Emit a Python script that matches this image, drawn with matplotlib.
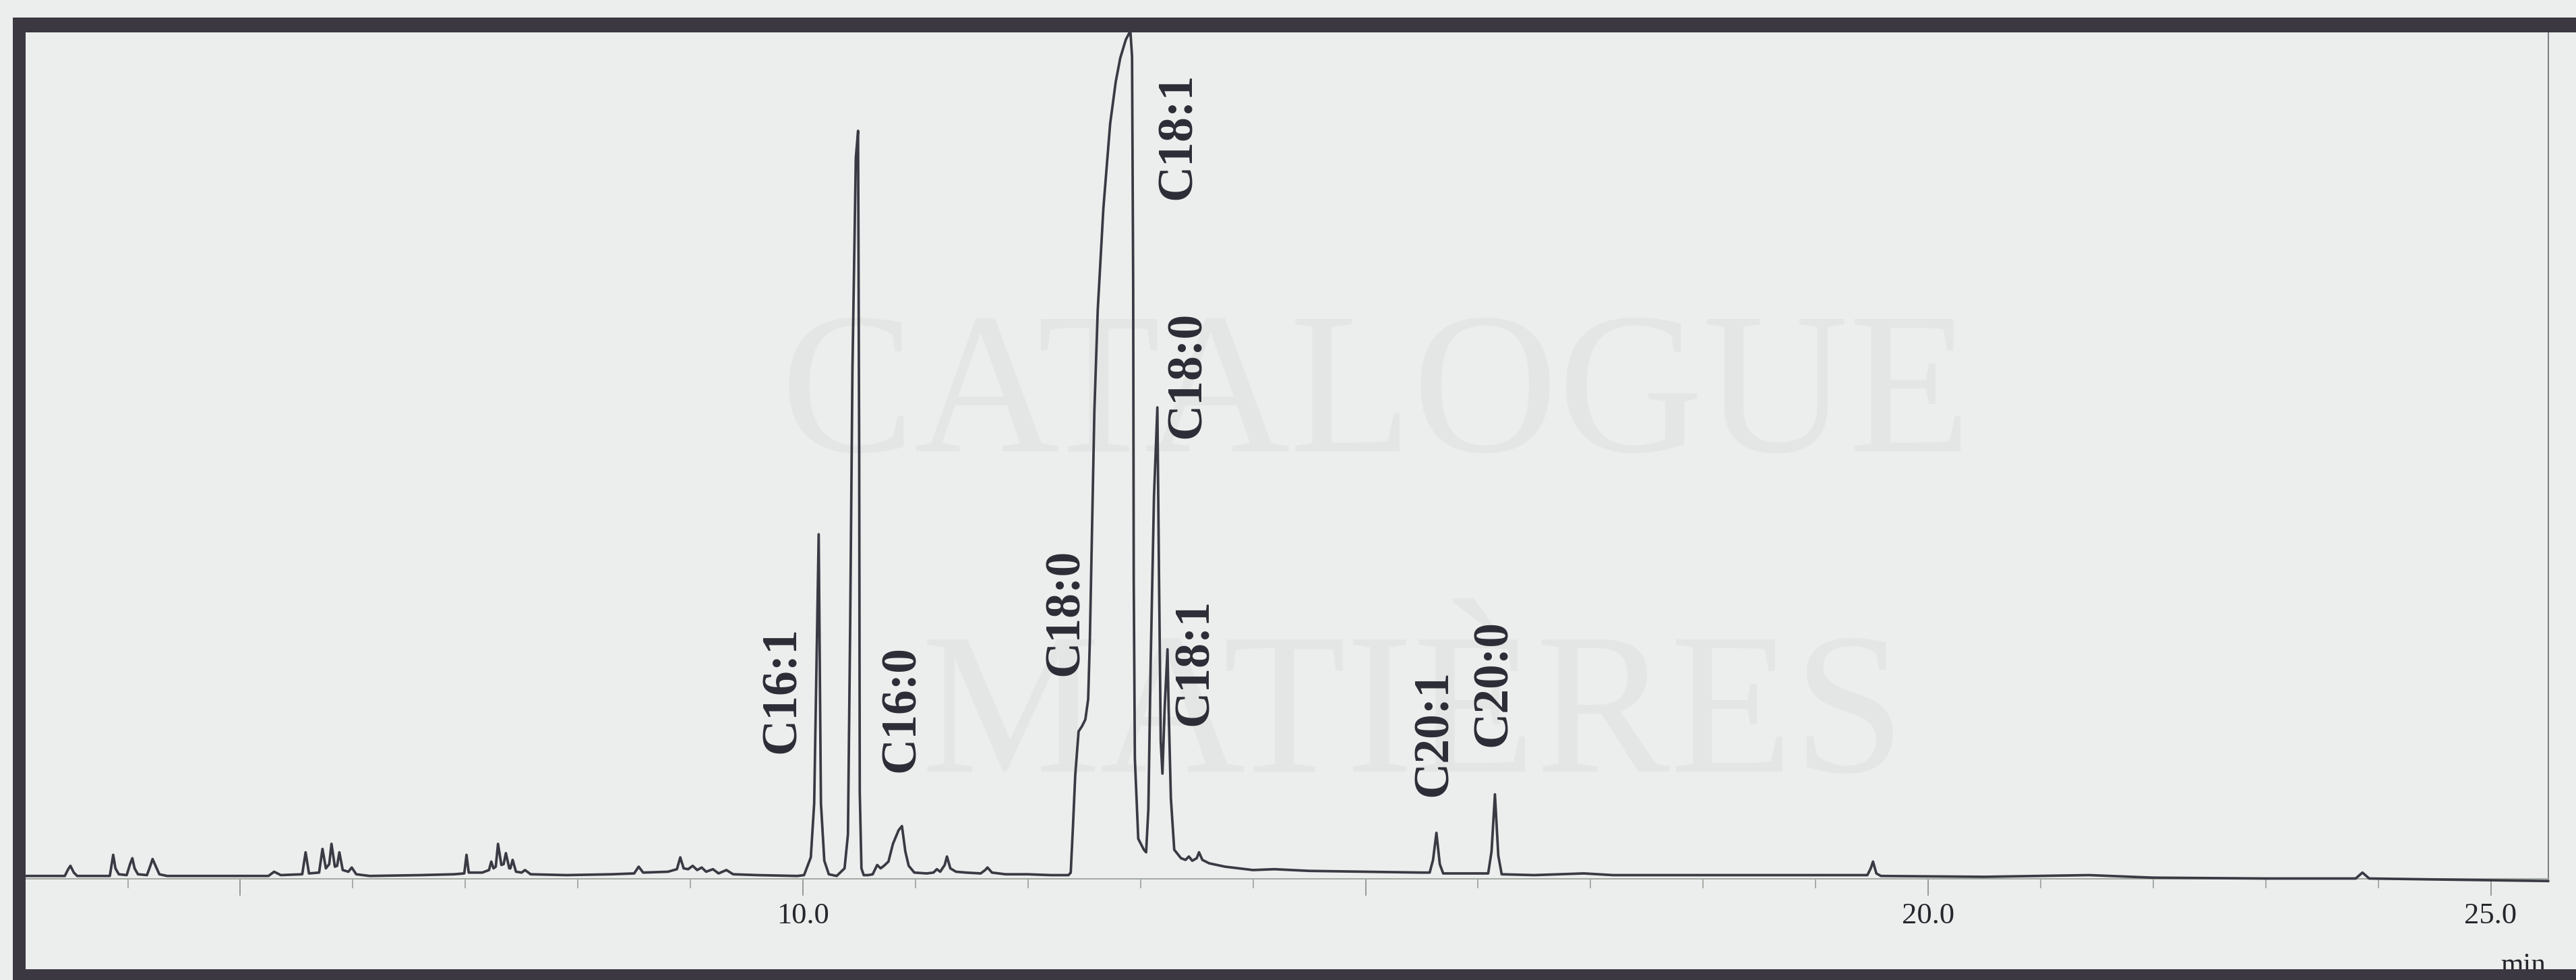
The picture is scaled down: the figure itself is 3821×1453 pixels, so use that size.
import matplotlib
matplotlib.use("Agg")
import matplotlib.pyplot as plt
from matplotlib.patches import Rectangle
import numpy as np

# ---------------- data ----------------
# retention time (min) / detector signal (% of full scale), trace vertices by region
rt_early = [3.08, 3.44, 3.47, 3.49, 3.52, 3.55, 3.84, 3.86, 3.87, 3.89, 3.92,
            3.99, 4.02, 4.04, 4.06, 4.09, 4.17, 4.20, 4.22, 4.25, 4.28, 4.35,
            5.00, 5.25, 5.30, 5.36, 5.55, 5.58, 5.61, 5.70, 5.73, 5.76, 5.79,
            5.81, 5.84, 5.86, 5.88, 5.91, 5.96, 5.99, 6.03, 6.15, 6.60, 6.90,
            6.99, 7.01, 7.03, 7.15, 7.21, 7.23, 7.25, 7.27, 7.29, 7.32, 7.34,
            7.36, 7.39, 7.40, 7.42, 7.45, 7.50, 7.53, 7.58, 7.90, 8.30, 8.50,
            8.54, 8.58, 8.80, 8.88, 8.91, 8.94, 8.98, 9.02, 9.06, 9.10, 9.14,
            9.20, 9.25, 9.32, 9.38, 9.60, 9.95]
sig_early = [0.1, 0.1, 0.9, 1.3, 0.5, 0.1, 0.1, 1.8, 2.6, 1.0, 0.3,
             0.2, 1.5, 2.2, 1.0, 0.3, 0.2, 1.3, 2.1, 1.2, 0.3, 0.1,
             0.1, 0.1, 0.6, 0.2, 0.3, 2.9, 0.4, 0.5, 3.3, 1.0, 1.5,
             3.9, 1.2, 1.3, 2.9, 0.8, 0.6, 1.1, 0.3, 0.1, 0.2, 0.3,
             0.4, 2.6, 0.5, 0.5, 0.8, 1.8, 1.0, 1.2, 3.9, 1.4, 1.5,
             2.8, 1.0, 1.0, 2.0, 0.6, 0.5, 0.8, 0.3, 0.2, 0.3, 0.4,
             1.2, 0.5, 0.6, 0.9, 2.3, 1.0, 0.9, 1.3, 0.8, 1.1, 0.6,
             0.9, 0.4, 0.8, 0.3, 0.2, 0.1]

rt_c16 = [10.01, 10.07, 10.10, 10.14, 10.16, 10.19, 10.23, 10.30, 10.37,
          10.40, 10.42, 10.44, 10.47, 10.49, 10.50, 10.505, 10.52, 10.54,
          10.58, 10.62, 10.66, 10.69, 10.72, 10.76, 10.80, 10.85, 10.88,
          10.91, 10.94, 10.99, 11.10, 11.16, 11.19, 11.22, 11.26, 11.28,
          11.31, 11.36, 11.45, 11.58, 11.62, 11.64, 11.68, 11.80, 12.00,
          12.20, 12.36]
sig_c16 = [0.2, 2.3, 8.7, 40.5, 8.7, 1.9, 0.3, 0.1, 1.0,
           5.0, 30.0, 60.0, 85.0, 88.2, 50.0, 10.0, 1.0, 0.2,
           0.2, 0.3, 1.4, 1.0, 1.3, 1.8, 3.9, 5.5, 6.0,
           3.0, 1.3, 0.5, 0.4, 0.5, 0.9, 0.6, 1.4, 2.4,
           1.0, 0.6, 0.5, 0.4, 0.8, 1.1, 0.5, 0.3, 0.3,
           0.2, 0.2]

rt_c18 = [12.38, 12.40, 12.42, 12.45, 12.48, 12.51, 12.535, 12.55, 12.565,
          12.59, 12.62, 12.67, 12.73, 12.78, 12.82, 12.87, 12.91, 12.925,
          12.935, 12.94, 12.95, 12.98, 13.03, 13.05, 13.07, 13.09, 13.12,
          13.15, 13.165, 13.18, 13.195, 13.215, 13.24, 13.25, 13.27, 13.30,
          13.36, 13.40, 13.43, 13.46, 13.50, 13.52, 13.55, 13.61, 13.75,
          14.00, 14.19, 14.50, 15.00, 15.50]
sig_c18 = [0.5, 6.0, 12.0, 17.2, 17.8, 18.6, 21.0, 28.0, 38.0,
           55.0, 67.0, 79.0, 89.0, 94.0, 96.8, 99.0, 100.0, 97.0,
           70.0, 35.0, 14.0, 4.5, 3.2, 2.9, 8.0, 25.0, 45.0,
           55.5, 35.0, 16.0, 12.2, 20.0, 26.9, 20.0, 9.3, 3.2,
           2.2, 2.0, 2.4, 1.9, 2.2, 2.9, 2.0, 1.6, 1.2,
           0.8, 0.9, 0.7, 0.6, 0.5]

rt_late = [15.57, 15.60, 15.63, 15.66, 15.69, 16.09, 16.12, 16.15, 16.18,
           16.21, 16.50, 16.94, 17.20, 18.00, 19.00, 19.46, 19.49, 19.51,
           19.54, 19.58, 20.50, 21.43, 22.00, 23.00, 23.80, 23.86, 23.92,
           25.00, 25.51]
sig_late = [0.5, 2.0, 5.2, 1.5, 0.4, 0.4, 3.0, 9.75, 2.5,
            0.3, 0.2, 0.4, 0.2, 0.2, 0.2, 0.2, 1.0, 1.8,
            0.4, 0.1, 0.0, 0.2, -0.1, -0.2, -0.2, 0.5, -0.2,
            -0.4, -0.5]

# peak annotations
peak_names = ["C16:1", "C16:0", "C18:0", "C18:1", "C18:0", "C18:1", "C20:1", "C20:0"]
peak_times = [10.14, 10.88, 12.50, 12.91, 13.15, 13.24, 15.63, 16.15]

# x-axis ticks
major_ticks = [5, 10, 15, 20, 25]
major_labels = ["", "10.0", "", "20.0", "25.0"]
minor_ticks = list(range(4, 26))

# ---------------- layout / style ----------------
W, H, DPI = 3821, 1453, 100
BG = "#eceeed"
FRAME = "#3b3842"
TRACE = "#3a3a44"

# pixel <-> data mapping of the scanned chart
X0_PX, PX_PER_MIN = 1191.0, 166.9       # 10.0 min sits at x=1191 px
BASE_PX, PX_PER_UNIT = 1300.0, 12.54     # signal 0 at y=1300 px


def t_of(px):
    return 10.0 + (px - X0_PX) / PX_PER_MIN


def v_of(py):
    return (BASE_PX - py) / PX_PER_UNIT


fig = plt.figure(figsize=(W / DPI, H / DPI), dpi=DPI, facecolor=BG)
ax = fig.add_axes([0, 0, 1, 1])
ax.set_xlim(t_of(0), t_of(W))
ax.set_ylim(v_of(H), v_of(0))
ax.patch.set_visible(False)

# very faint watermark of the scanned page
wm_kw = dict(family="Liberation Serif", color="#e4e6e5", ha="center",
             va="center", zorder=0)
ax.text(t_of(2042), v_of(597), "CATALOGUE", fontsize=215, **wm_kw)
ax.text(t_of(2096), v_of(1072), "MATIÈRES", fontsize=215, **wm_kw)

# trace
rt = np.concatenate([rt_early, rt_c16, rt_c18, rt_late])
sig = np.concatenate([sig_early, sig_c16, sig_c18, sig_late])
ax.plot(rt, sig, color=TRACE, lw=2.7, solid_joinstyle="round", zorder=3)

# right edge of the acquisition window
ylo, yhi = v_of(H), v_of(0)
ax.axvline(rt[-1], ymin=(sig[-1] - ylo) / (yhi - ylo),
           ymax=(v_of(46) - ylo) / (yhi - ylo),
           color="#6f6f76", lw=1.3, zorder=2)

# axis line with ticks at the baseline
for s in ("left", "right", "top"):
    ax.spines[s].set_visible(False)
ax.spines["bottom"].set_position(("data", -0.25))
ax.spines["bottom"].set_bounds(rt[0], rt[-1])
ax.spines["bottom"].set_color("#a3aba3")
ax.spines["bottom"].set_linewidth(1.4)
ax.set_yticks([])
ax.set_xticks(major_ticks)
ax.set_xticklabels(major_labels)
ax.set_xticks(minor_ticks, minor=True)
ax.tick_params(axis="x", which="major", direction="out", length=18, width=1.3,
               color="#8f958f", pad=7, labelsize=32, labelcolor="#26262d")
ax.tick_params(axis="x", which="minor", direction="out", length=10, width=1.2,
               color="#9aa09a")
for lab in ax.get_xticklabels():
    lab.set_family("Liberation Serif")

ax.text(t_of(3743), v_of(1442), "min", family="Liberation Serif", fontsize=31,
        color="#26262d", ha="center", va="baseline", zorder=2)

# peak labels (rotated, bold serif), pixel centres
label_pos = [(1161, 1023), (1338, 1051), (1581, 908), (1748, 202),
             (1762, 556), (1773, 982), (2128, 1087), (2216, 1013)]
for name, t, (px, py) in zip(peak_names, peak_times, label_pos):
    ax.text(t_of(px), v_of(py), name, rotation=90, ha="center",
            va="center", family="Liberation Serif", fontweight="bold",
            fontsize=53, color="#2c2c36", zorder=4)

# scanned page frame (top, left, bottom bands)
def band(x0, y0, x1, y1):
    fig.add_artist(Rectangle((x0 / W, 1 - y1 / H), (x1 - x0) / W, (y1 - y0) / H,
                             transform=fig.transFigure, color=FRAME, lw=0,
                             zorder=5))

band(19, 26, W, 48)
band(19, 26, 38, H)
band(19, 1437, W, H)

fig.savefig("out.png", dpi=DPI, facecolor=BG)
